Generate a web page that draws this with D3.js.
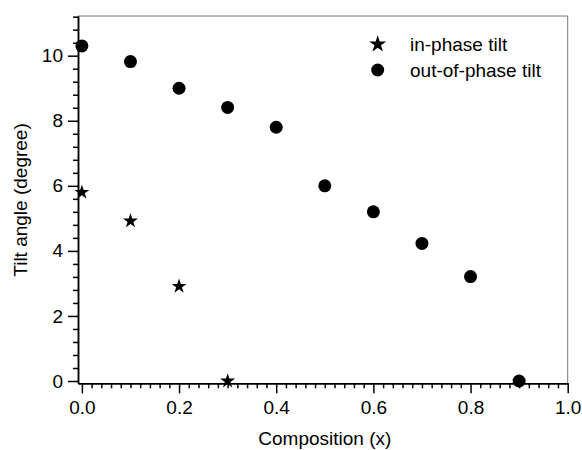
<!DOCTYPE html>
<html>
<head>
<meta charset="utf-8">
<script src="https://cdn.jsdelivr.net/npm/d3@7"></script>
<style>
  body { margin: 0; background: #fff; }
  text { font-family: "Liberation Sans", Arial, Helvetica, sans-serif; fill: #000; }
</style>
</head>
<body>
<svg id="chart" width="582" height="450"></svg>
<script>
// data
var composition = [0.0, 0.1, 0.2, 0.3, 0.4, 0.5, 0.6, 0.7, 0.8, 0.9];
var inPhaseX = [0.0, 0.1, 0.2, 0.3];
var inPhaseTilt = [5.8, 4.92, 2.91, 0.0];
var outPhaseTilt = [10.3, 9.82, 9.0, 8.41, 7.8, 6.0, 5.2, 4.23, 3.21, 0.0];
var xTicks = [0.0, 0.2, 0.4, 0.6, 0.8, 1.0];
var yTicks = [0, 2, 4, 6, 8, 10];
var seriesNames = ["in-phase tilt", "out-of-phase tilt"];

var svg = d3.select("#chart");
var fontSize = "19px";

// plot box
var plotLeft = 78, plotRight = 567.7, plotTop = 16, plotBottom = 383.3;

var x = d3.scaleLinear().domain([-0.008, 1.0]).range([plotLeft, plotRight]);
var y = d3.scaleLinear().domain([-0.07, 11.22]).range([plotBottom, plotTop]);

// frame (top + right, grey)
svg.append("line").attr("x1", plotLeft).attr("x2", plotRight).attr("y1", plotTop).attr("y2", plotTop)
  .attr("stroke", "#777").attr("stroke-width", 1);
svg.append("line").attr("x1", plotRight).attr("x2", plotRight).attr("y1", plotTop).attr("y2", plotBottom)
  .attr("stroke", "#777").attr("stroke-width", 1);

// minor ticks
var xMinor = d3.range(0, 51).map(function (i) { return i * 0.02; })
  .filter(function (v) { return Math.abs(v * 5 - Math.round(v * 5)) > 1e-6; });
var yMinor = d3.range(0, 29).map(function (i) { return i * 0.4; })
  .filter(function (v) { return Math.abs(v / 2 - Math.round(v / 2)) > 1e-6; });

var xMinorAxis = svg.append("g").attr("transform", "translate(0," + plotBottom + ")")
  .call(d3.axisBottom(x).tickValues(xMinor).tickSize(5).tickSizeOuter(0).tickFormat(""));
var yMinorAxis = svg.append("g").attr("transform", "translate(" + plotLeft + ",0)")
  .call(d3.axisLeft(y).tickValues(yMinor).tickSize(5).tickSizeOuter(0).tickFormat(""));

// major axes
var xAxis = svg.append("g").attr("transform", "translate(0," + plotBottom + ")")
  .call(d3.axisBottom(x).tickValues(xTicks).tickSize(10).tickSizeOuter(0).tickPadding(7)
    .tickFormat(d3.format(".1f")));
var yAxis = svg.append("g").attr("transform", "translate(" + plotLeft + ",0)")
  .call(d3.axisLeft(y).tickValues(yTicks).tickSize(10).tickSizeOuter(0).tickPadding(5)
    .tickFormat(d3.format("d")));

[xMinorAxis, yMinorAxis, xAxis, yAxis].forEach(function (g) {
  g.selectAll("path, line").attr("stroke", "#000").attr("stroke-width", 1.5);
  g.selectAll("text").style("font-size", fontSize).attr("fill", "#000")
    .style("font-family", "'Liberation Sans', Arial, sans-serif");
});

// axis titles
svg.append("text").attr("x", (plotLeft + plotRight) / 2 + 2).attr("y", 445)
  .attr("text-anchor", "middle").style("font-size", fontSize).text("Composition (x)");
svg.append("text").attr("transform", "translate(27," + 200 + ") rotate(-90)")
  .attr("text-anchor", "middle").style("font-size", fontSize).text("Tilt angle (degree)");

// points
var star = d3.symbol().type(d3.symbolStar).size(70);
svg.append("g").selectAll("path").data(inPhaseX).enter().append("path")
  .attr("d", star)
  .attr("transform", function (d, i) { return "translate(" + x(d) + "," + y(inPhaseTilt[i]) + ")"; })
  .attr("fill", "#000");

svg.append("g").selectAll("circle").data(composition).enter().append("circle")
  .attr("cx", function (d) { return x(d); })
  .attr("cy", function (d, i) { return y(outPhaseTilt[i]); })
  .attr("r", 6.5)
  .attr("fill", "#000");

// legend
var legendStar = d3.symbol().type(d3.symbolStar).size(90);
svg.append("path").attr("d", legendStar).attr("transform", "translate(377.7,44.3)").attr("fill", "#000");
svg.append("circle").attr("cx", 377.7).attr("cy", 70).attr("r", 6.5).attr("fill", "#000");
svg.append("text").attr("x", 410).attr("y", 44.3).attr("dy", "0.35em").style("font-size", fontSize).text(seriesNames[0]);
svg.append("text").attr("x", 410).attr("y", 70).attr("dy", "0.35em").style("font-size", fontSize).text(seriesNames[1]);
</script>
</body>
</html>
